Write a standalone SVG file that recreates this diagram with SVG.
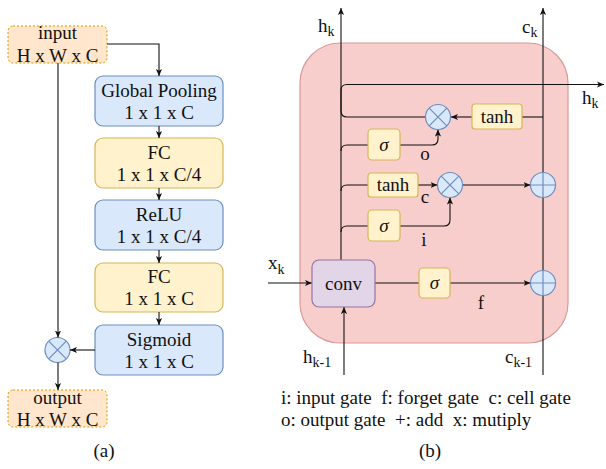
<svg xmlns="http://www.w3.org/2000/svg" width="606" height="469" viewBox="0 0 606 469">
<defs>
<marker id="arr" viewBox="0 0 8 8" refX="8" refY="4" markerWidth="7" markerHeight="7" orient="auto" markerUnits="userSpaceOnUse"><path d="M0,0.5 L8,4 L0,7.5 L2,4 z" fill="#111"/></marker>
<style>
text{font-family:"Liberation Serif","Times New Roman",serif;font-size:19px;fill:#111;white-space:pre}
.c{text-anchor:middle}
.sub{font-size:14px}
.io{fill:#ffe6cc;stroke:#d79b00;stroke-width:1;stroke-dasharray:2 2}
.blue{fill:#dae8fc;stroke:#6c8ebf;stroke-width:1.2}
.yel{fill:#fff2cc;stroke:#d6b656;stroke-width:1.2}
.pur{fill:#e1d5e7;stroke:#9673a6;stroke-width:1.2}
.op{fill:#dae8fc;stroke:#6c8ebf;stroke-width:1.2}
.opl{stroke:#6c8ebf;stroke-width:1.2;fill:none}
.ln{fill:none;stroke:#111;stroke-width:1.1}
.la{fill:none;stroke:#111;stroke-width:1.1;marker-end:url(#arr)}
.sig{font-style:italic}
</style>
</defs>

<!-- (a) -->
<g id="input"><rect class="io" x="8" y="26" width="99" height="37" rx="5"/><text class="c" x="57.5" y="39">input</text><text class="c" x="57.5" y="62">H x W x C</text></g>
<g id="gpool"><rect class="blue" x="95" y="76" width="128" height="50" rx="8"/><text class="c" x="159" y="97">Global Pooling</text><text class="c" x="159" y="118.5">1 x 1 x C</text></g>
<g id="fc1"><rect class="yel" x="95" y="138" width="128" height="50" rx="8"/><text class="c" x="159" y="158.5">FC</text><text class="c" x="159" y="181">1 x 1 x C/4</text></g>
<g id="relu"><rect class="blue" x="95" y="200" width="128" height="50" rx="8"/><text class="c" x="159" y="220.5">ReLU</text><text class="c" x="159" y="243">1 x 1 x C/4</text></g>
<g id="fc2"><rect class="yel" x="95" y="263" width="128" height="49" rx="8"/><text class="c" x="159" y="283">FC</text><text class="c" x="159" y="305">1 x 1 x C</text></g>
<g id="sigmoid"><rect class="blue" x="95" y="325" width="128" height="50" rx="8"/><text class="c" x="159" y="345.5">Sigmoid</text><text class="c" x="159" y="367.5">1 x 1 x C</text></g>
<g id="mulA"><circle class="op" cx="57.5" cy="350" r="12.5"/><path class="opl" d="M48.7,341.2 L66.3,358.8 M66.3,341.2 L48.7,358.8"/></g>
<g id="output"><rect class="io" x="8" y="390" width="99" height="37" rx="5"/><text class="c" x="57.5" y="404">output</text><text class="c" x="57.5" y="426">H x W x C</text></g>
<text id="labelA" class="c" x="104" y="457">(a)</text>

<!-- (b) -->
<g id="cell"><rect x="300" y="43" width="268" height="300" rx="40" fill="#f8cecc" stroke="#d99a98" stroke-width="1.2"/></g>

<g id="connectors">
<path class="la" d="M107,44 H159 V76"/>
<path class="la" d="M159,126 V138"/>
<path class="la" d="M159,188 V200"/>
<path class="la" d="M159,250 V263"/>
<path class="la" d="M159,312 V325" stroke-width="1.8"/>
<path class="la" d="M58,63 V337.5"/>
<path class="la" d="M95,350 H70"/>
<path class="la" d="M58,362.5 V390"/>

<path class="la" d="M341,260 V8"/>
<path class="la" d="M543,375 V8"/>
<path class="la" d="M425.5,117 H347 Q341,117 341,111 V90.5 Q341,84.5 347,84.5 H604"/>
<path class="ln" d="M543,117 H522"/>
<path class="la" d="M472,117 H451"/>
<path class="ln" d="M341,151 Q341,145 347,145 H368"/>
<path class="la" d="M400,145 H432 Q438,145 438,139 V129.5"/>
<path class="ln" d="M341,191 Q341,185 347,185 H368"/>
<path class="la" d="M418,185 H437.5"/>
<path class="la" d="M462.5,185 H530.5"/>
<path class="ln" d="M341,232 Q341,226 347,226 H368"/>
<path class="la" d="M400,226 H444 Q450,226 450,220 V197.5"/>
<path class="la" d="M268,283 H312"/>
<path class="la" d="M344,375 V307"/>
<path class="ln" d="M375,283 H419"/>
<path class="la" d="M450,283 H530.5"/>
</g>

<g id="tanhO"><rect class="yel" x="472" y="104" width="50" height="25" rx="3"/><text class="c" x="497" y="123">tanh</text></g>
<g id="mulO"><circle class="op" cx="438" cy="117" r="12.5"/><path class="opl" d="M429.2,108.2 L446.8,125.8 M446.8,108.2 L429.2,125.8"/></g>
<g id="sigO"><rect class="yel" x="368" y="129" width="32" height="31" rx="4"/><text class="c sig" x="384" y="151">σ</text></g>
<g id="tanhC"><rect class="yel" x="368" y="173" width="50" height="24" rx="3"/><text class="c" x="393" y="191">tanh</text></g>
<g id="mulC"><circle class="op" cx="450" cy="185" r="12.5"/><path class="opl" d="M441.2,176.2 L458.8,193.8 M458.8,176.2 L441.2,193.8"/></g>
<g id="addC"><circle class="op" cx="543" cy="185" r="12.5"/><path class="opl" d="M530.5,185 H555.5 M543,172.5 V197.5"/></g>
<g id="sigI"><rect class="yel" x="368" y="210" width="32" height="31" rx="4"/><text class="c sig" x="384" y="232">σ</text></g>
<g id="conv"><rect class="pur" x="312" y="260" width="63" height="47" rx="7"/><text class="c" x="343.5" y="290">conv</text></g>
<g id="sigF"><rect class="yel" x="419" y="268" width="31" height="30" rx="4"/><text class="c sig" x="434.5" y="289">σ</text></g>
<g id="addF"><circle class="op" cx="543" cy="283" r="12.5"/><path class="opl" d="M530.5,283 H555.5 M543,270.5 V295.5"/></g>

<text x="318" y="32">h<tspan class="sub" dy="4">k</tspan></text>
<text x="522" y="33">c<tspan class="sub" dy="4">k</tspan></text>
<text x="582" y="104">h<tspan class="sub" dy="4">k</tspan></text>
<text x="268" y="269">x<tspan class="sub" dy="5">k</tspan></text>
<text x="303" y="363">h<tspan class="sub" dy="4">k-1</tspan></text>
<text x="505" y="363">c<tspan class="sub" dy="4">k-1</tspan></text>
<text class="c" x="425" y="160">o</text>
<text class="c" x="425" y="203">c</text>
<text class="c" x="424" y="246">i</text>
<text class="c" x="481" y="309">f</text>

<text x="281" y="404">i: input gate  f: forget gate  c: cell gate</text>
<text x="281" y="426">o: output gate  +: add  x: mutiply</text>
<text id="labelB" class="c" x="430" y="457">(b)</text>
</svg>
